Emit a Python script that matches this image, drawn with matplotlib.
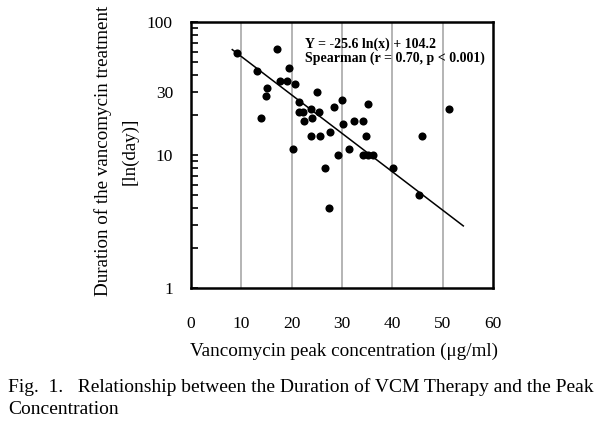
import matplotlib
matplotlib.use("Agg")
import matplotlib.pyplot as plt
from matplotlib.ticker import LogLocator, NullFormatter, FixedLocator

plt.rcParams['font.family'] = ['Liberation Serif', 'DejaVu Serif']

# data
peak_conc = [9.2, 13.1, 13.9, 14.9, 15.0, 17.0, 17.6, 19.0, 19.5, 20.3,
             20.7, 21.5, 21.5, 22.2, 22.4, 23.8, 23.8, 24.1, 25.0, 25.4,
             25.7, 26.7, 27.4, 27.6, 28.5, 29.3, 30.0, 30.2, 31.3, 32.3,
             34.1, 34.2, 34.7, 35.1, 35.2, 36.1, 40.2, 45.2, 45.9, 51.3]
duration = [58, 43, 19, 28, 32, 63, 36, 36, 45, 11,
            34, 25, 21, 21, 18, 22, 14, 19, 30, 21,
            14, 8, 4, 15, 23, 10, 26, 17, 11, 18,
            10, 18, 14, 10, 24, 10, 8, 5, 14, 22]
fit_x = [8.2, 54.1]
fit_y = [62.0, 2.93]
x_ticks = [0, 10, 20, 30, 40, 50, 60]
y_ticks = [1, 10, 30, 100]
y_tick_labels = ["1", "10", "30", "100"]

fig = plt.figure(figsize=(5.97, 4.26), dpi=100)
ax = fig.add_axes([191/597, 1-288/426, (493-191)/597, (288-22)/426])

for xv in x_ticks[1:-1]:
    ax.axvline(xv, color='#a0a0a0', lw=1.1, zorder=0)

ax.plot(fit_x, fit_y, color='black', lw=1.1, zorder=2)
ax.scatter(peak_conc, duration, s=34, color='black', zorder=3, linewidths=0)

ax.set_yscale('log')
ax.set_xlim(0, 60)
ax.set_ylim(1, 100)
ax.set_xticks(x_ticks)
ax.set_xticklabels([str(v) for v in x_ticks])
ax.yaxis.set_major_locator(FixedLocator(y_ticks))
ax.set_yticklabels(y_tick_labels)
ax.yaxis.set_minor_locator(LogLocator(base=10, subs=range(2, 10)))
ax.yaxis.set_minor_formatter(NullFormatter())
ax.tick_params(axis='y', which='both', direction='in', length=5, width=1.2,
               pad=13, labelsize=12.5)
ax.tick_params(axis='x', which='both', length=0, pad=20, labelsize=12.5)
for s in ax.spines.values():
    s.set_linewidth(1.8)

ax.text(0.377, 0.917, "Y = -25.6 ln(x) + 104.2", transform=ax.transAxes,
        fontsize=10, fontweight='bold', va='center', ha='left')
ax.text(0.377, 0.862, "Spearman (r = 0.70, p < 0.001)", transform=ax.transAxes,
        fontsize=10, fontweight='bold', va='center', ha='left')

fig.text(103/597, 1-151/426, "Duration of the vancomycin treatment",
         rotation=90, ha='center', va='center', fontsize=13.7)
fig.text(130/597, 1-151/426, "[ln(day)]",
         rotation=90, ha='center', va='center', fontsize=13.7)
fig.text(344/597, 1-351/426, "Vancomycin peak concentration (\u03bcg/ml)",
         ha='center', va='center', fontsize=13.8)
fig.text(8/597, 1-387/426,
         "Fig.  1.   Relationship between the Duration of VCM Therapy and the Peak",
         ha='left', va='center', fontsize=14)
fig.text(8/597, 1-409/426, "Concentration",
         ha='left', va='center', fontsize=14)

fig.savefig("out.png", dpi=100)
